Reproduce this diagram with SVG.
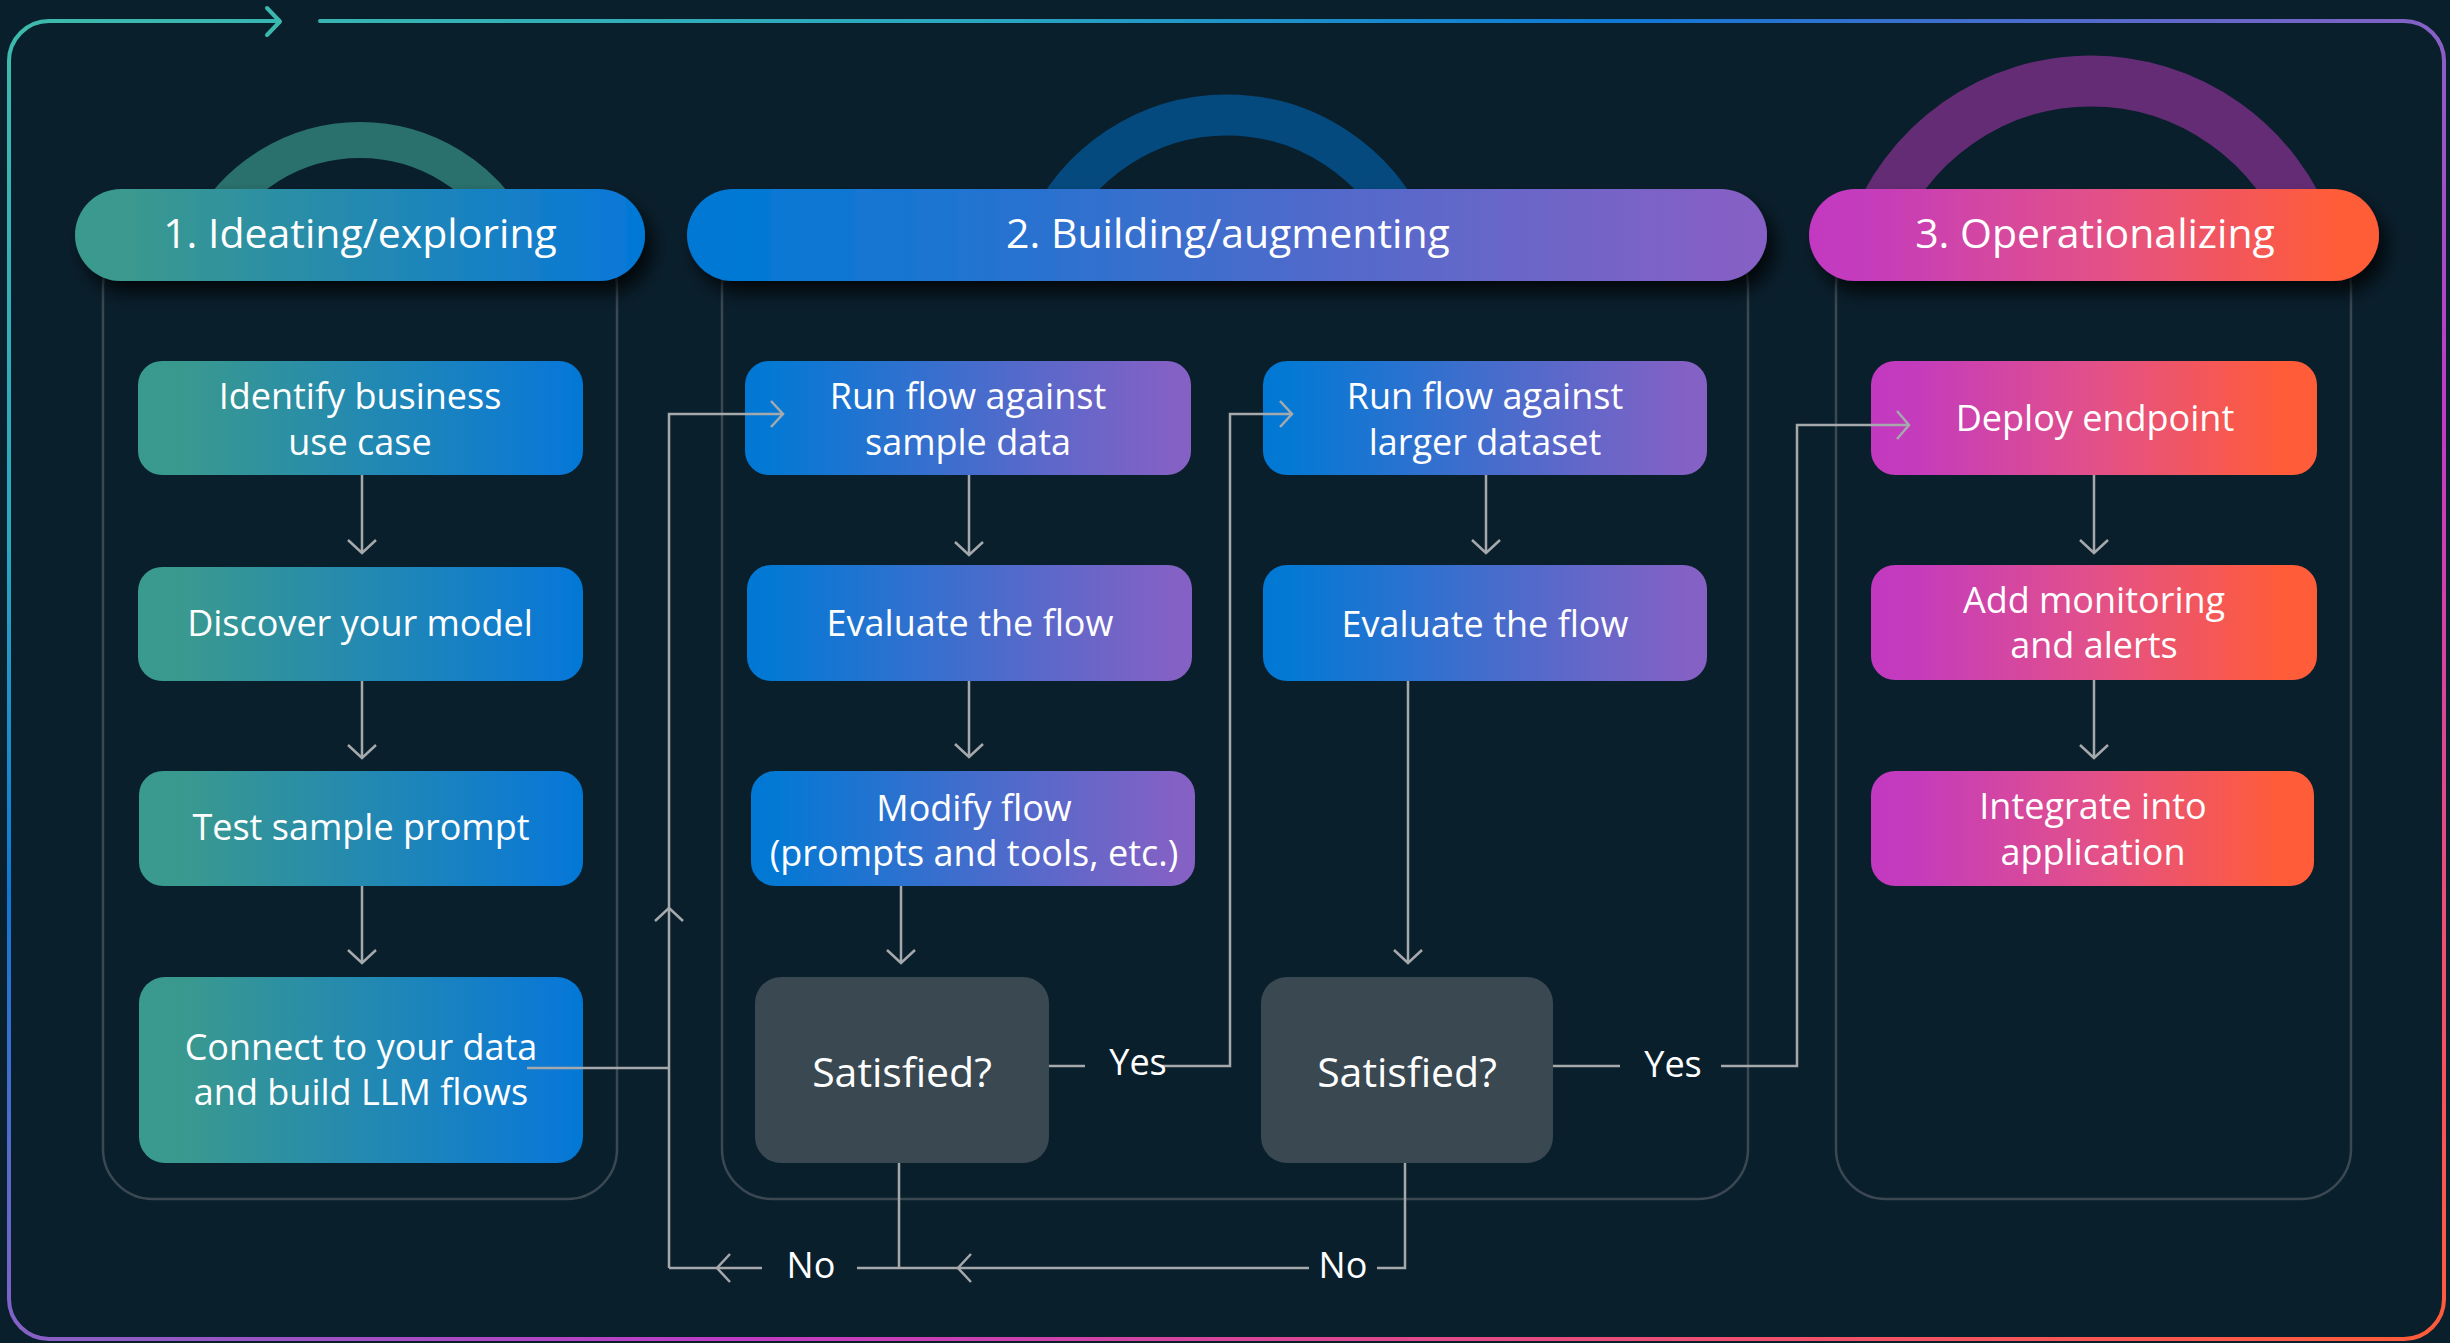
<svg xmlns="http://www.w3.org/2000/svg" width="2450" height="1343" viewBox="0 0 2450 1343">
<defs>
  <linearGradient id="gTeal" x1="0" y1="0" x2="1" y2="0">
    <stop offset="0" stop-color="#3b9a8e"/>
    <stop offset="0.1" stop-color="#3a998f"/>
    <stop offset="0.95" stop-color="#0a78d6"/>
    <stop offset="1" stop-color="#0078d4"/>
  </linearGradient>
  <linearGradient id="gBlue" x1="0" y1="0" x2="1" y2="0">
    <stop offset="0" stop-color="#0078d4"/>
    <stop offset="0.06" stop-color="#0479d4"/>
    <stop offset="0.94" stop-color="#8261c5"/>
    <stop offset="1" stop-color="#8661c5"/>
  </linearGradient>
  <linearGradient id="gMag" x1="0" y1="0" x2="1" y2="0">
    <stop offset="0" stop-color="#c239c0"/>
    <stop offset="0.1" stop-color="#c43cbc"/>
    <stop offset="0.5" stop-color="#e2508a"/>
    <stop offset="0.92" stop-color="#ff5c39"/>
    <stop offset="1" stop-color="#ff5c39"/>
  </linearGradient>
  <linearGradient id="gBorder" x1="0" y1="0" x2="1" y2="1">
    <stop offset="0" stop-color="#3dbbac"/>
    <stop offset="0.2" stop-color="#2aa6c0"/>
    <stop offset="0.33" stop-color="#0f78d4"/>
    <stop offset="0.5" stop-color="#8661c5"/>
    <stop offset="0.65" stop-color="#c03bc4"/>
    <stop offset="0.85" stop-color="#ee4f72"/>
    <stop offset="1" stop-color="#ff5c39"/>
  </linearGradient>
  <filter id="shadow" x="-10%" y="-30%" width="125%" height="180%">
    <feDropShadow dx="8" dy="12" stdDeviation="9" flood-color="#000000" flood-opacity="0.75"/>
  </filter>
</defs>
<style>
  .panel { fill: none; stroke: #3a4852; stroke-width: 2.5; }
  .pilltext { font-family: "Open Sans", "Noto Sans", sans-serif; font-size: 41px; fill: #ffffff; text-anchor: middle; }
  .ntext { font-family: "Open Sans", "Noto Sans", sans-serif; font-size: 36px; fill: #ffffff; text-anchor: middle; }
  .stext { font-family: "Open Sans", "Noto Sans", sans-serif; font-size: 41px; fill: #ffffff; text-anchor: middle; }
  .ltext { font-family: "Open Sans", "Noto Sans", sans-serif; font-size: 36px; fill: #ffffff; text-anchor: middle; }
  .conn { fill: none; stroke: #a6a9ac; stroke-width: 2.5; stroke-linejoin: miter; }
  .arc { fill: none; }
  .dec { fill: #3a4852; }
</style>

<rect x="0" y="0" width="2450" height="1343" fill="#0a1f2c"/>

<!-- outer gradient border with cycle arrow -->
<g id="outer-border">
  <path d="M320,21 H2404 A40,40 0 0 1 2444,61 V1299 A40,40 0 0 1 2404,1339 H49 A40,40 0 0 1 9,1299 V61 A40,40 0 0 1 49,21 H279" fill="none" stroke="url(#gBorder)" stroke-width="4" stroke-linecap="round"/>
  <path d="M267,8 L280,21.5 L267,35" fill="none" stroke="#3cb9ae" stroke-width="4" stroke-linecap="round" stroke-linejoin="round"/>
</g>

<!-- panels -->
<g id="panel-1"><rect class="panel" x="103" y="235" width="514" height="964" rx="50"/></g>
<g id="panel-2"><rect class="panel" x="722" y="235" width="1026" height="964" rx="50"/></g>
<g id="panel-3"><rect class="panel" x="1836" y="235" width="515" height="964" rx="50"/></g>

<!-- phase headers -->
<g id="phase-1">
  <path class="arc" d="M205.6,235 A173,173 0 0 1 514.4,235" stroke="#2a716d" stroke-width="36"/>
  <rect x="75" y="189" width="570" height="92" rx="46" fill="url(#gTeal)" filter="url(#shadow)"/>
  <text class="pilltext" x="360" y="248">1. Ideating/exploring</text>
</g>
<g id="phase-2">
  <path class="arc" d="M1045,235 A198,198 0 0 1 1409,235" stroke="#054a7f" stroke-width="41"/>
  <rect x="687" y="189" width="1080" height="92" rx="46" fill="url(#gBlue)" filter="url(#shadow)"/>
  <text class="pilltext" x="1228" y="248">2. Building/augmenting</text>
</g>
<g id="phase-3">
  <path class="arc" d="M1872.5,235 A232,232 0 0 1 2309.5,235" stroke="#652c76" stroke-width="51"/>
  <rect x="1809" y="189" width="570" height="92" rx="46" fill="url(#gMag)" filter="url(#shadow)"/>
  <text class="pilltext" x="2095" y="248">3. Operationalizing</text>
</g>

<!-- column 1 nodes -->
<g id="identify">
  <rect x="138" y="361" width="445" height="114" rx="24" fill="url(#gTeal)"/>
  <text class="ntext" x="360" y="409">Identify business</text>
  <text class="ntext" x="360" y="455">use case</text>
</g>
<g id="discover">
  <rect x="138" y="567" width="445" height="114" rx="24" fill="url(#gTeal)"/>
  <text class="ntext" x="360" y="636">Discover your model</text>
</g>
<g id="test-prompt">
  <rect x="139" y="771" width="444" height="115" rx="24" fill="url(#gTeal)"/>
  <text class="ntext" x="361" y="840">Test sample prompt</text>
</g>
<g id="connect-data">
  <rect x="139" y="977" width="444" height="186" rx="26" fill="url(#gTeal)"/>
  <text class="ntext" x="361" y="1060">Connect to your data</text>
  <text class="ntext" x="361" y="1105">and build LLM flows</text>
</g>

<!-- column 2a nodes -->
<g id="run-sample">
  <rect x="745" y="361" width="446" height="114" rx="24" fill="url(#gBlue)"/>
  <text class="ntext" x="968" y="409">Run flow against</text>
  <text class="ntext" x="968" y="455">sample data</text>
</g>
<g id="evaluate-1">
  <rect x="747" y="565" width="445" height="116" rx="24" fill="url(#gBlue)"/>
  <text class="ntext" x="970" y="636">Evaluate the flow</text>
</g>
<g id="modify">
  <rect x="751" y="771" width="444" height="115" rx="24" fill="url(#gBlue)"/>
  <text class="ntext" x="974" y="821">Modify flow</text>
  <text class="ntext" x="974" y="866">(prompts and tools, etc.)</text>
</g>
<g id="satisfied-1">
  <rect class="dec" x="755" y="977" width="294" height="186" rx="26"/>
  <text class="stext" x="902" y="1087">Satisfied?</text>
</g>

<!-- column 2b nodes -->
<g id="run-larger">
  <rect x="1263" y="361" width="444" height="114" rx="24" fill="url(#gBlue)"/>
  <text class="ntext" x="1485" y="409">Run flow against</text>
  <text class="ntext" x="1485" y="455">larger dataset</text>
</g>
<g id="evaluate-2">
  <rect x="1263" y="565" width="444" height="116" rx="24" fill="url(#gBlue)"/>
  <text class="ntext" x="1485" y="637">Evaluate the flow</text>
</g>
<g id="satisfied-2">
  <rect class="dec" x="1261" y="977" width="292" height="186" rx="26"/>
  <text class="stext" x="1407" y="1087">Satisfied?</text>
</g>

<!-- column 3 nodes -->
<g id="deploy">
  <rect x="1871" y="361" width="446" height="114" rx="24" fill="url(#gMag)"/>
  <text class="ntext" x="2095" y="431">Deploy endpoint</text>
</g>
<g id="monitoring">
  <rect x="1871" y="565" width="446" height="115" rx="24" fill="url(#gMag)"/>
  <text class="ntext" x="2094" y="613">Add monitoring</text>
  <text class="ntext" x="2094" y="658">and alerts</text>
</g>
<g id="integrate">
  <rect x="1871" y="771" width="443" height="115" rx="24" fill="url(#gMag)"/>
  <text class="ntext" x="2093" y="819">Integrate into</text>
  <text class="ntext" x="2093" y="865">application</text>
</g>

<!-- connectors -->
<g id="connectors">
  <!-- column 1 -->
  <path class="conn" d="M362,475 V553 M348,540 L362,553 L376,540"/>
  <path class="conn" d="M362,681 V758 M348,745 L362,758 L376,745"/>
  <path class="conn" d="M362,886 V963 M348,950 L362,963 L376,950"/>
  <!-- column 2a -->
  <path class="conn" d="M969,475 V555 M955,542 L969,555 L983,542"/>
  <path class="conn" d="M969,681 V757 M955,744 L969,757 L983,744"/>
  <path class="conn" d="M901,886 V963 M887,950 L901,963 L915,950"/>
  <!-- column 2b -->
  <path class="conn" d="M1486,475 V553 M1472,540 L1486,553 L1500,540"/>
  <path class="conn" d="M1408,681 V963 M1394,950 L1408,963 L1422,950"/>
  <!-- column 3 -->
  <path class="conn" d="M2094,475 V553 M2080,540 L2094,553 L2108,540"/>
  <path class="conn" d="M2094,680 V758 M2080,745 L2094,758 L2108,745"/>
  <!-- connect to data -> run sample -->
  <path class="conn" d="M527,1068 H669"/>
  <path class="conn" d="M669,1268 V414 H783 M771,401 L783,414 L771,427"/>
  <path class="conn" d="M655,921 L669,908 L683,921"/>
  <!-- No loops -->
  <path class="conn" d="M762,1268 H669"/>
  <path class="conn" d="M730,1254 L717,1268 L730,1282"/>
  <path class="conn" d="M899,1163 V1268"/>
  <path class="conn" d="M1309,1268 H857"/>
  <path class="conn" d="M971,1254 L958,1268 L971,1282"/>
  <path class="conn" d="M1405,1163 V1268 H1377"/>
  <!-- Yes 1 -->
  <path class="conn" d="M1049,1066 H1085"/>
  <path class="conn" d="M1160,1066 H1230 V414 H1292 M1280,401 L1292,414 L1280,427"/>
  <!-- Yes 2 -->
  <path class="conn" d="M1553,1066 H1620"/>
  <path class="conn" d="M1721,1066 H1797 V425 H1909 M1897,411 L1909,425 L1897,439"/>
  <!-- labels -->
  <text class="ltext" x="1138" y="1075">Yes</text>
  <text class="ltext" x="1673" y="1077">Yes</text>
  <text class="ltext" x="811" y="1278">No</text>
  <text class="ltext" x="1343" y="1278">No</text>
</g>
</svg>
